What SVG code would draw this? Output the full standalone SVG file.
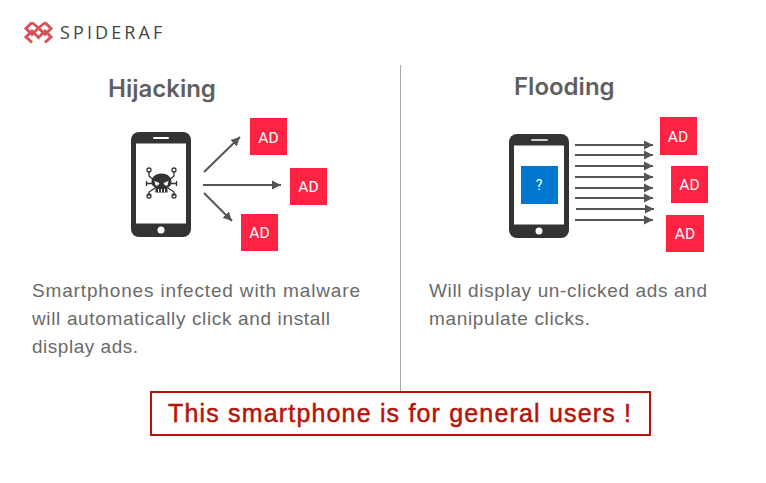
<svg xmlns="http://www.w3.org/2000/svg" width="766" height="483" viewBox="0 0 766 483">
<defs>
<marker id="ah" markerUnits="userSpaceOnUse" markerWidth="10" markerHeight="10" refX="9" refY="5" orient="auto"><path d="M0 0.500L9 5L0 9.500Z" fill="#555"/></marker>
</defs>
<style>
text{font-family:"Liberation Sans",sans-serif}
.ad rect{fill:#ff2343}
.ad text{fill:#fff;font-size:15.500px;text-anchor:middle;font-family:Roboto,sans-serif}
.title{fill:#5f5f5f;font-size:24px;font-weight:600;font-family:Inter,"Liberation Sans",sans-serif}
.body{fill:#6a6a6a;font-size:19px}
.c line{stroke:#555;stroke-width:2;marker-end:url(#ah)}
.phone{fill:#333}
</style>
<rect width="766" height="483" fill="#fff"/>
<g id="logo">
<g fill="none" stroke="#d8525a" stroke-width="3">
<path d="M32 22.500L26 28.500L32 34.500L38.500 28L45 34.500L51 28.500L45 22.500"/>
<path d="M32 22.500L38.500 28L45 22.500" stroke-width="2.500"/>
<path d="M32 42.500L26 37L32 31L38.500 37.500L45 31L51 37L45 42.500"/>
</g>
<text x="60" y="39" font-size="18" letter-spacing="3.100" fill="#444" style="font-family:'Open Sans','Liberation Sans',sans-serif">SPIDERAF</text>
</g>
<line id="divider" x1="400.500" y1="65" x2="400.500" y2="391" stroke="#aaa" stroke-width="1"/>
<text id="t1" class="title" x="108" y="97">Hijacking</text>
<text id="t2" class="title" x="514" y="95">Flooding</text>
<g id="phone-left">
<rect class="phone" x="131" y="132" width="60" height="105" rx="8"/>
<rect x="136" y="143.500" width="50" height="80" fill="#fff"/>
<rect x="153" y="137" width="16" height="2" rx="1" fill="#fff"/>
<circle cx="161" cy="230" r="3.500" fill="#fff"/>
<g fill="none" stroke="#333" stroke-width="1.300">
<path d="M149 171V176L155 181M174 171V176L168 181M147 183.500H153M176 183.500H170M149 196V192L155 188M174 196V192L168 188M146.500 181V186M176.500 181V186"/>
<circle cx="149" cy="170" r="2"/><circle cx="174" cy="170" r="2"/><circle cx="149" cy="196" r="2"/><circle cx="174" cy="196" r="2"/>
</g>
<path d="M161.500 173.500c-6.500 0-10 4-10 8.500c0 3 2 5 4 6v4.500h12v-4.500c2-1 4-3 4-6c0-4.500-3.500-8.500-10-8.500z" fill="#333"/>
<path d="M154.500 181l5 2l-1.500 2.500h-2.500zM168.500 181l-5 2l1.500 2.500h2.500z" fill="#fff"/>
<path d="M158.500 189v3M161.500 189v3M164.500 189v3" stroke="#fff" stroke-width="1"/>
</g>
<g id="phone-right">
<rect class="phone" x="509" y="134" width="60" height="104" rx="8"/>
<rect x="514" y="145.500" width="50" height="79" fill="#fff"/>
<rect x="531" y="139" width="17" height="2" rx="1" fill="#ccc"/>
<circle cx="539" cy="231" r="3.500" fill="#fff"/>
</g>
<g id="question">
<rect x="521" y="166" width="37" height="38" fill="#0077cf"/>
<text x="539" y="190" font-size="14" fill="#fff" text-anchor="middle" style="font-family:Roboto,sans-serif">?</text>
</g>
<g id="connectors" class="c">
<line x1="204" y1="172" x2="240" y2="137"/>
<line x1="203" y1="185" x2="281" y2="185"/>
<line x1="204" y1="193" x2="232" y2="221"/>
<line x1="575" y1="145" x2="653" y2="145"/>
<line x1="575" y1="155" x2="653" y2="155"/>
<line x1="575" y1="166" x2="653" y2="166"/>
<line x1="575" y1="177" x2="653" y2="177"/>
<line x1="575" y1="188" x2="653" y2="188"/>
<line x1="575" y1="198" x2="653" y2="198"/>
<line x1="576" y1="209" x2="654" y2="209"/>
<line x1="575" y1="220" x2="653" y2="220"/>
</g>
<g id="ad1" class="ad"><rect x="250" y="118" width="37" height="37"/><text x="268.500" y="143">AD</text></g>
<g id="ad2" class="ad"><rect x="290" y="168" width="37" height="37"/><text x="308.500" y="192">AD</text></g>
<g id="ad3" class="ad"><rect x="241" y="214" width="37" height="37"/><text x="259.500" y="238">AD</text></g>
<g id="ad4" class="ad"><rect x="660" y="117" width="37" height="38"/><text x="678" y="142">AD</text></g>
<g id="ad5" class="ad"><rect x="671" y="166" width="37" height="37"/><text x="689.500" y="190">AD</text></g>
<g id="ad6" class="ad"><rect x="666" y="215" width="38" height="37"/><text x="685" y="239">AD</text></g>
<g id="desc1" class="body">
<text x="32" y="297" textLength="328">Smartphones infected with malware</text>
<text x="32" y="325" textLength="298">will automatically click and install</text>
<text x="32" y="353" textLength="106">display ads.</text>
</g>
<g id="desc2" class="body">
<text x="429" y="297" textLength="278">Will display un-clicked ads and</text>
<text x="429" y="325" textLength="161">manipulate clicks.</text>
</g>
<g id="notice">
<rect x="151" y="392" width="499" height="43" fill="#fff" stroke="#b51408" stroke-width="2"/>
<text x="168" y="422" font-size="25" fill="#b51408" textLength="463" stroke="#b51408" stroke-width=".5">This smartphone is for general users !</text>
</g>
</svg>
